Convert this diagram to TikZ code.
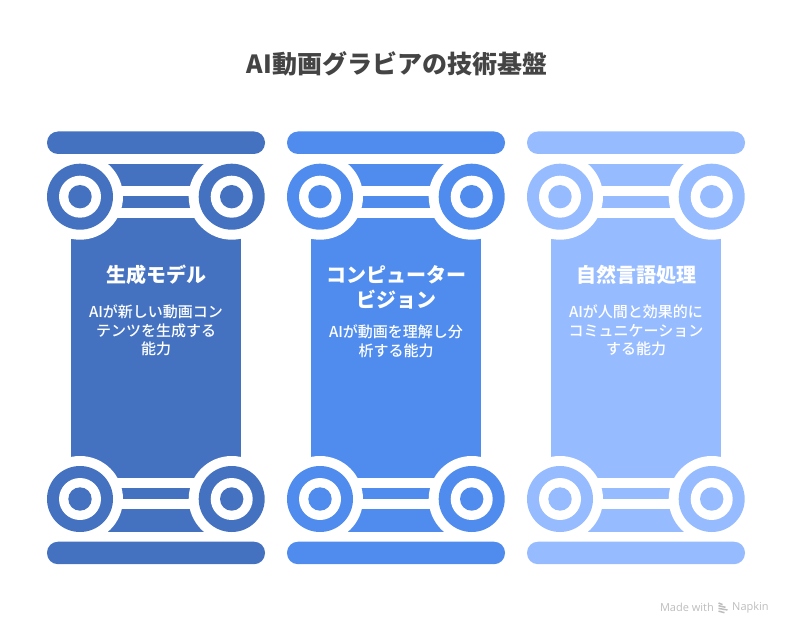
\documentclass[tikz,border=0pt]{standalone}
\usepackage{fontspec}
\setmainfont{Noto Sans CJK JP}
\newfontfamily\bodyfont{Noto Sans CJK JP Medium}
\newfontfamily\footfont{Open Sans}
\definecolor{pillarA}{HTML}{4472C0}
\definecolor{pillarB}{HTML}{4F8CEE}
\definecolor{pillarC}{HTML}{97BBFF}
\definecolor{titlegray}{HTML}{444444}
\definecolor{footgray}{HTML}{BDBDBD}
\tikzset{
  maintitle/.style={text=titlegray,font=\fontsize{25}{30}\selectfont\bfseries},
  headtext/.style={text=white,align=center,font=\fontsize{20}{25}\selectfont\bfseries},
  bodytext/.style={text=white,align=center,font=\fontsize{15}{18.7}\bodyfont},
  foottext/.style={text=footgray,font=\fontsize{11}{12}\footfont}
}
\begin{document}
\begin{tikzpicture}[x=1pt,y=-1pt]
  \useasboundingbox (0,0) rectangle (792,636);

  \node[maintitle] (title) at (397,64) {AI動画グラビアの技術基盤};

  % one pillar per column, scroll parts mirrored about y=347.85
  \foreach \dx/\pcol in {0/pillarA,240/pillarB,480/pillarC}{
    \begin{scope}[xshift=\dx pt]
      \fill[\pcol] (71.3,217.7) rectangle (240.7,478);
      \fill[\pcol] (100,164) rectangle (212,186.3);
      \fill[\pcol] (110,196.3) rectangle (202,208);
      \fill[\pcol] (100,531.7) rectangle (212,509.4);
      \fill[\pcol] (110,499.4) rectangle (202,487.7);
      \foreach \cy in {196.7,499}{
        \foreach \cx in {80,231.7}{
          \fill[white] (\cx,\cy) circle [radius=43];
          \fill[\pcol] (\cx,\cy) circle [radius=33];
          \fill[white] (\cx,\cy) circle [radius=21];
          \fill[\pcol] (\cx,\cy) circle [radius=11.7];
        }
      }
      \fill[\pcol,rounded corners=11pt] (47,131.5) rectangle (265,154);
      \fill[\pcol,rounded corners=11pt] (47,541.7) rectangle (265,564.2);
    \end{scope}
  }

  \node[headtext] (headA) at (156,275) {生成モデル};
  \node[bodytext] (bodyA) at (156,330.5) {AIが新しい動画コン\\テンツを生成する\\能力};

  \node[headtext] (headB) at (396,287.5) {コンピューター\\ビジョン};
  \node[bodytext] (bodyB) at (396,341.5) {AIが動画を理解し分\\析する能力};

  \node[headtext] (headC) at (636,275) {自然言語処理};
  \node[bodytext] (bodyC) at (636,330.5) {AIが人間と効果的に\\コミュニケーション\\する能力};

  \node[foottext,anchor=east,inner sep=0pt] (footA) at (714,607.5) {Made with};
  \node[foottext,anchor=west,inner sep=0pt] (footB) at (732,607.5) {Napkin};
  % small logo between the two words
  \foreach \ly/\lx in {603/4,605.7/7,608.4/9,611.1/6}{
    \draw[footgray,line width=1.5pt] (718.5,\ly) -- (718.5+\lx,\ly+1.6);
  }
\end{tikzpicture}
\end{document}
